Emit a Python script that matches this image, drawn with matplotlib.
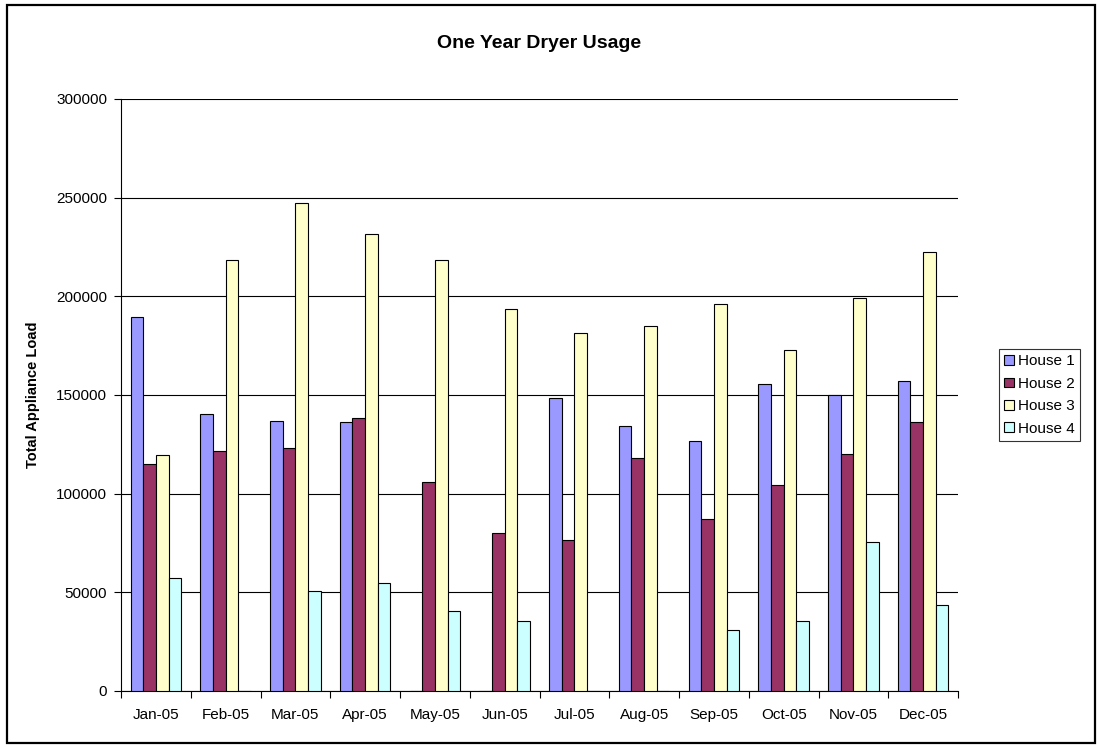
import numpy as np
import matplotlib
matplotlib.use("Agg")
from matplotlib import pyplot as plt
from matplotlib.patches import Rectangle

plt.rcParams['font.family'] = ['Liberation Sans', 'DejaVu Sans']

# Data
months = ["Jan-05", "Feb-05", "Mar-05", "Apr-05", "May-05", "Jun-05",
          "Jul-05", "Aug-05", "Sep-05", "Oct-05", "Nov-05", "Dec-05"]
house1 = [189500, 140400, 137000, 136300, 0, 0, 148600, 134400, 126700, 155800, 150000, 157200]
house2 = [115100, 121600, 123300, 138400, 106000, 80000, 76700, 118200, 87200, 104600, 120200, 136300]
house3 = [119500, 218200, 247300, 231800, 218200, 193500, 181200, 184900, 196100, 172600, 199300, 222600]
house4 = [57200, 0, 50700, 54600, 40400, 35400, 0, 0, 30700, 35400, 75500, 43700]
names = ["House 1", "House 2", "House 3", "House 4"]
colors = ['#9999FF', '#993366', '#FFFFCC', '#CCFFFF']

series = [house1, house2, house3, house4]

fig = plt.figure(figsize=(10.97, 7.48), dpi=100)
ax = fig.add_axes([121 / 1097, 1 - 691 / 748, 837 / 1097, 592 / 748])

x = np.arange(len(months))
w = 1 / 5.5  # Excel gap width 150%
for i, vals in enumerate(series):
    ax.bar(x + (i - 1.5) * w, vals, width=w, color=colors[i],
           edgecolor='black', linewidth=0.8, label=names[i], zorder=3)

ax.set_xlim(-0.5, len(months) - 0.5)
ax.set_ylim(0, 300000)
ax.set_yticks(np.arange(0, 300001, 50000))
ax.yaxis.grid(True, color='black', linewidth=0.8)
ax.set_axisbelow(True)

# category labels centred, tick marks between categories
ax.set_xticks(x)
ax.set_xticklabels(months)
ax.set_xticks(np.arange(-0.5, len(months), 1), minor=True)
ax.tick_params(axis='x', which='major', length=0, pad=12, labelsize=11)
ax.tick_params(axis='x', which='minor', length=5, width=0.8, direction='out')
ax.tick_params(axis='y', length=5, width=0.8, pad=5, labelsize=11)

for s in ['top', 'right']:
    ax.spines[s].set_visible(False)
ax.spines['left'].set_linewidth(0.8)
ax.spines['bottom'].set_linewidth(0.8)

ax.set_ylabel("Total Appliance Load", fontsize=10.5, fontweight='bold')
ax.yaxis.set_label_coords((40 - 121) / 837, 0.5)
fig.text(0.5 * (121 + 958) / 1097, 1 - 43 / 748, "One Year Dryer Usage",
         ha='center', va='center', fontsize=14, fontweight='bold')

leg = fig.legend(loc='center left', bbox_to_anchor=(999 / 1097, 1 - 395 / 748),
                 fontsize=11, frameon=True, fancybox=False, borderpad=0.35,
                 labelspacing=0.55, handlelength=0.6, handleheight=0.6,
                 handletextpad=0.3, borderaxespad=0)
leg.get_frame().set_edgecolor('black')
leg.get_frame().set_linewidth(0.8)

# outer chart border
fig.patches.append(Rectangle((7 / 1097, 5 / 748), 1088 / 1097, 738 / 748,
                             transform=fig.transFigure, fill=False,
                             edgecolor='black', linewidth=1.6))

fig.savefig("out.png", dpi=100)
